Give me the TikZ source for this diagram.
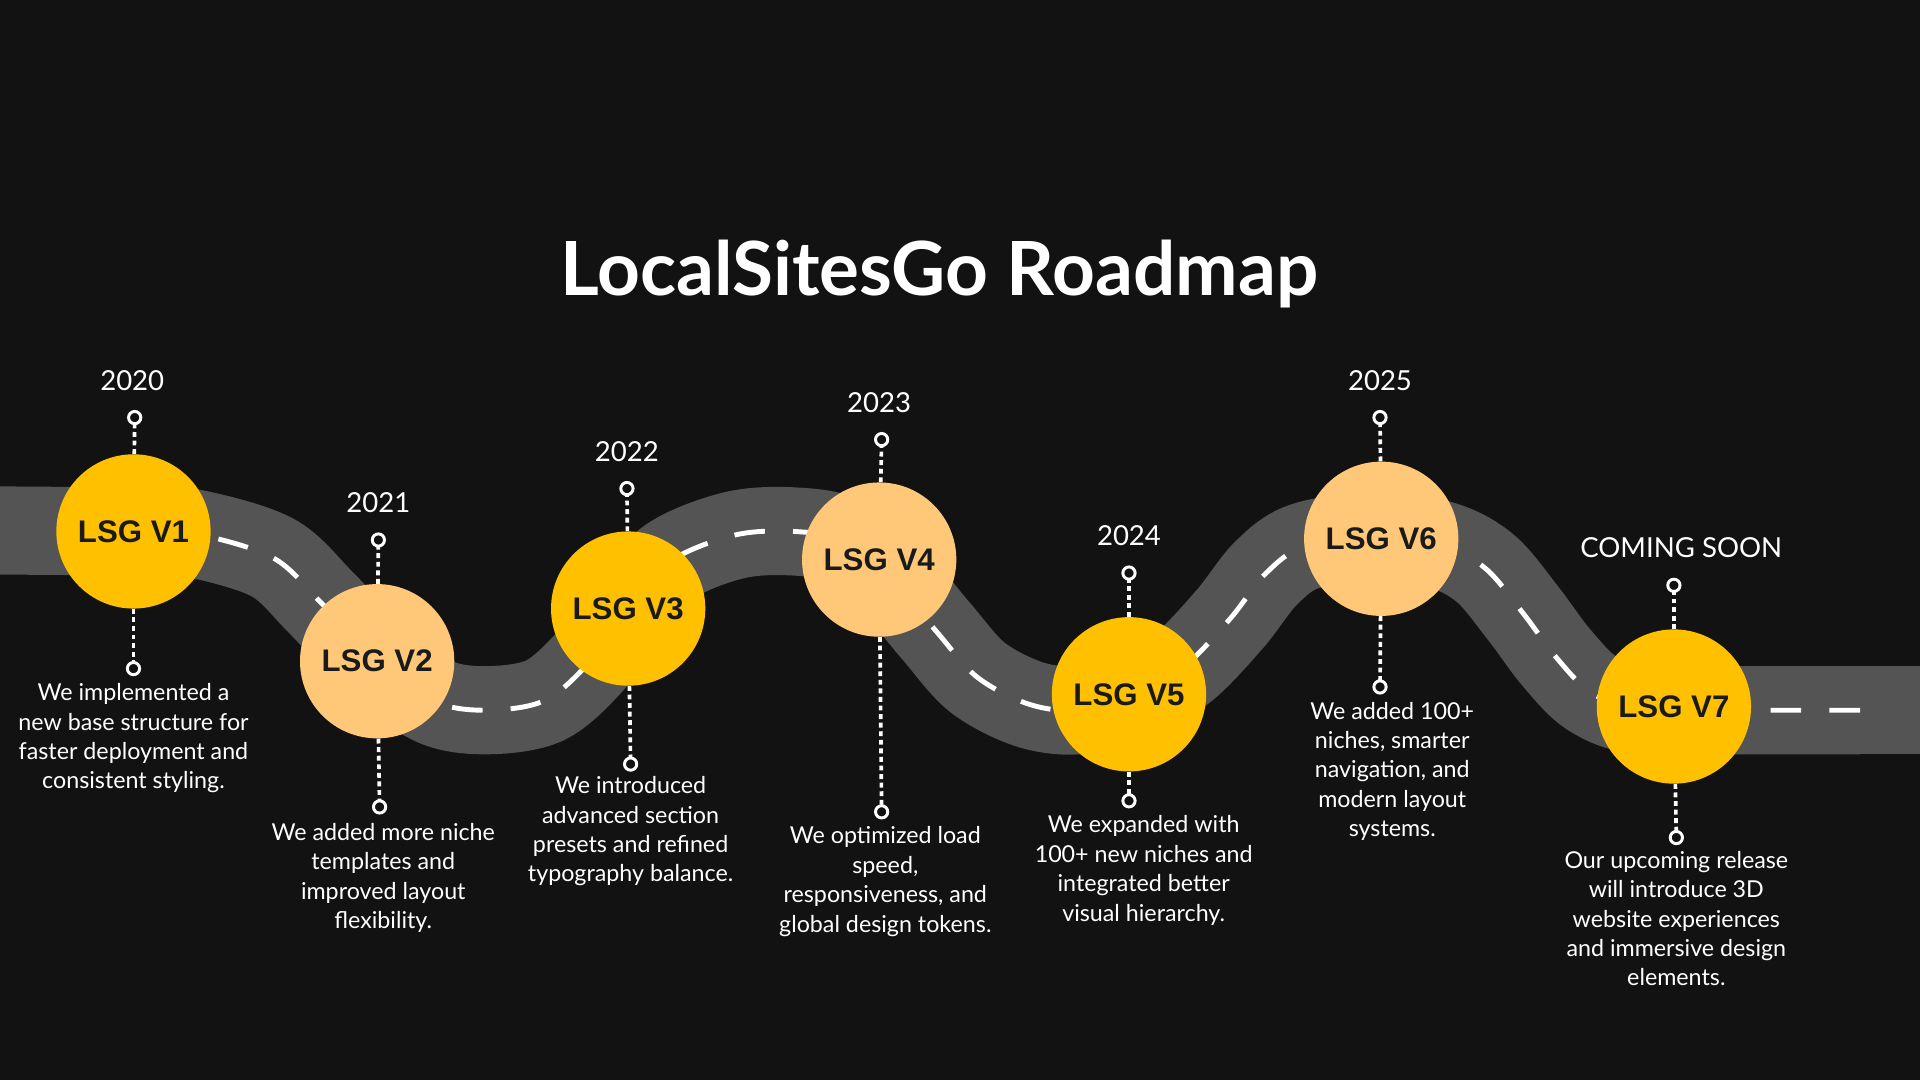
\documentclass[tikz,border=0pt]{standalone}
\usepackage{fontspec}
\setmainfont{Lato}
\newfontfamily\badgefont{Liberation Sans}
\usetikzlibrary{positioning}
\definecolor{bgdark}{HTML}{121212}
\definecolor{roadgray}{HTML}{545454}
\definecolor{gold}{HTML}{FFC000}
\definecolor{peach}{HTML}{FFC878}
\definecolor{inkdark}{HTML}{1A1A1A}

\begin{document}
\begin{tikzpicture}
[x=1pt,y=-1pt,
 version/.style={circle,minimum size=126pt,inner sep=0pt,text=inkdark,font=\badgefont\bfseries\fontsize{25.5}{30}\selectfont},
 pin/.style={circle,draw=white,fill=bgdark,line width=2.4pt,minimum size=10pt,inner sep=0pt,outer sep=0pt},
 year/.style={text=white,inner sep=0pt,font=\fontsize{22.5}{27}\selectfont},
 note/.style={text=white,inner sep=0pt,align=center,font=\fontsize{19}{24}\selectfont},
 dots/.style={draw=white,line width=3pt,dash pattern=on 4pt off 3pt},
 road/.style={draw=roadgray,line width=72pt}]
\useasboundingbox (0,0) rectangle (1568,882);
\fill[bgdark] (0,0) rectangle (1568,882);
\node[text=white,font=\bfseries\fontsize{61}{68}\selectfont] (title) at (767,224) {LocalSitesGo Roadmap};
% the road with its lane marks (drawn from the right end)
\begin{scope}
\clip (0,0) rectangle (1568,882);
\draw[road] (-30,433) -- (110,434);
\draw[road] (1500,580) -- (1600,580);
\path[preaction={road},draw=white,line width=4pt,dash pattern=on 25pt off 23pt]
	plot[smooth,tension=0.55] coordinates {(1519,580) (1420,580) (1340,580) (1300,566) (1271,537)
	(1244,501) (1214,465) (1180,446) (1128,437) (1066,446) (1034,468) (1004,506) (965,546)
	(922,568) (880,580) (840,575) (798,553) (765,516) (730,475) (690,442) (648,434) (600,437)
	(548,458) (513,497) (482,540) (445,572) (398,580) (355,573) (308,540) (262,492) (222,455)
	(155,435) (110,434)};
\end{scope}
% versions
\node[version,fill=gold] (v1) at (109,434) {LSG V1};
\node[version,fill=peach] (v2) at (308,540) {LSG V2};
\node[version,fill=gold] (v3) at (513,497) {LSG V3};
\node[version,fill=peach] (v4) at (718,457) {LSG V4};
\node[version,fill=gold] (v5) at (922,567) {LSG V5};
\node[version,fill=peach] (v6) at (1128,440) {LSG V6};
\node[version,fill=gold] (v7) at (1367,577) {LSG V7};
% pins above and below
\node[pin] (t1) at (110,341) {};
\node[pin] (b1) at (109,546) {};
\node[pin] (t2) at (309,441) {};
\node[pin] (b2) at (310,659) {};
\node[pin] (t3) at (512,399) {};
\node[pin] (b3) at (515,624) {};
\node[pin] (t4) at (720,359) {};
\node[pin] (b4) at (720,663) {};
\node[pin] (t5) at (922,468) {};
\node[pin] (b5) at (922,654) {};
\node[pin] (t6) at (1127,341) {};
\node[pin] (b6) at (1127,561) {};
\node[pin] (t7) at (1367,478) {};
\node[pin] (b7) at (1369,684) {};
\draw[dots] (v1) -- (t1); \draw[dots] (v1) -- (b1);
\draw[dots] (v2) -- (t2); \draw[dots] (v2) -- (b2);
\draw[dots] (v3) -- (t3); \draw[dots] (v3) -- (b3);
\draw[dots] (v4) -- (t4); \draw[dots] (v4) -- (b4);
\draw[dots] (v5) -- (t5); \draw[dots] (v5) -- (b5);
\draw[dots] (v6) -- (t6); \draw[dots] (v6) -- (b6);
\draw[dots] (v7) -- (t7); \draw[dots] (v7) -- (b7);
% years
\node[year,above=17pt of t1,xshift=-2pt] (y1) {2020};
\node[year,above=17pt of t2] (y2) {2021};
\node[year,above=17pt of t3] (y3) {2022};
\node[year,above=17pt of t4,xshift=-2pt] (y4) {2023};
\node[year,above=17pt of t5] (y5) {2024};
\node[year,above=17pt of t6] (y6) {2025};
\node[year,above=17pt of t7,xshift=6pt] (y7) {COMING SOON};
% notes
\node[note,below=7pt of b1] (n1) {We implemented a\\new base structure for\\faster deployment and\\consistent styling.};
\node[note,below=8pt of b2,xshift=3pt] (n2) {We added more niche\\templates and\\improved layout\\flexibility.};
\node[note,below=5pt of b3] (n3) {We introduced\\advanced section\\presets and refined\\typography balance.};
\node[note,below=7pt of b4,xshift=3pt] (n4) {We optimized load\\speed,\\responsiveness, and\\global design tokens.};
\node[note,below=7pt of b5,xshift=12pt] (n5) {We expanded with\\100+ new niches and\\integrated better\\visual hierarchy.};
\node[note,below=7pt of b6,xshift=10pt] (n6) {We added 100+\\niches, smarter\\navigation, and\\modern layout\\systems.};
\node[note,below=6pt of b7] (n7) {Our upcoming release\\will introduce 3D\\website experiences\\and immersive design\\elements.};
\end{tikzpicture}
\end{document}
